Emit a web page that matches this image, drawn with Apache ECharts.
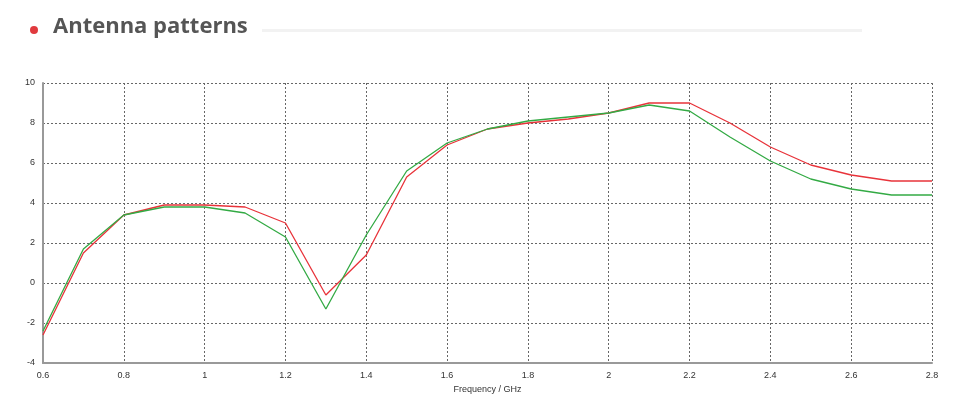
<!DOCTYPE html>
<html><head><meta charset="utf-8">
<script src="https://cdn.jsdelivr.net/npm/echarts@6/dist/echarts.min.js"></script>
<style>html,body{margin:0;padding:0;background:#fff}#c{width:970px;height:411px}</style>
</head><body><div id="c"></div>
<script>
const freqs = [0.6,0.7,0.8,0.9,1.0,1.1,1.2,1.3,1.4,1.5,1.6,1.7,1.8,1.9,2.0,2.1,2.2,2.3,2.4,2.5,2.6,2.7,2.8];
const redVals = [-2.6,1.5,3.4,3.9,3.9,3.8,3.0,-0.6,1.4,5.3,6.9,7.7,8.0,8.2,8.5,9.0,9.0,8.0,6.8,5.9,5.4,5.1,5.1];
const greenVals = [-2.4,1.7,3.4,3.8,3.8,3.5,2.3,-1.3,2.4,5.6,7.0,7.7,8.1,8.3,8.5,8.9,8.6,7.3,6.1,5.2,4.7,4.4,4.4];
const chart = echarts.init(document.getElementById('c'));
const gridLine = {show:true,lineStyle:{color:'#666',type:[2,2],width:1}};
chart.setOption({
  animation:false,
  graphic:[
    {type:'circle',shape:{cx:34,cy:30,r:4},style:{fill:'#e03a3e'}},
    {type:'text',left:53,top:16,style:{text:'Antenna patterns',font:'bold 22px "Open Sans", sans-serif',fill:'#555'}},
    {type:'rect',shape:{x:262,y:29,width:600,height:3},style:{fill:'#f2f2f2'}}
  ],
  grid:{left:43,right:38,top:83,bottom:48},
  xAxis:{type:'value',min:0.6,max:2.8,interval:0.2,name:'Frequency / GHz',nameLocation:'middle',nameGap:22,
    nameTextStyle:{fontSize:9,color:'#333'},
    axisLine:{onZero:false,lineStyle:{color:'#999',width:2}},axisTick:{show:false},
    axisLabel:{fontSize:9,color:'#333',formatter:v=>String(+v.toFixed(1))},splitLine:gridLine},
  yAxis:{type:'value',min:-4,max:10,interval:2,
    axisLine:{show:true,onZero:false,lineStyle:{color:'#999',width:2}},axisTick:{show:false},
    axisLabel:{fontSize:9,color:'#333'},splitLine:gridLine},
  series:[
    {type:'line',data:freqs.map((f,i)=>[f,redVals[i]]),symbol:'none',lineStyle:{color:'#e8333a',width:1.3}},
    {type:'line',data:freqs.map((f,i)=>[f,greenVals[i]]),symbol:'none',lineStyle:{color:'#33aa44',width:1.3}}
  ]
});
</script></body></html>
